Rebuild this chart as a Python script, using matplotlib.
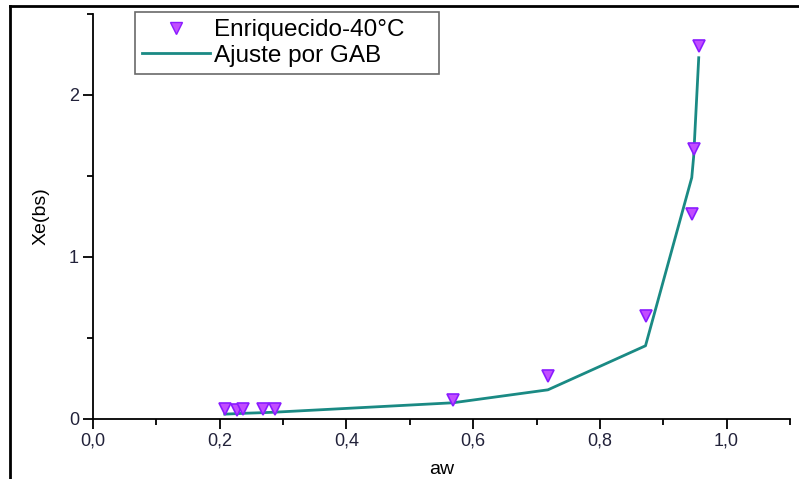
import numpy as np
import matplotlib
matplotlib.use("Agg")
import matplotlib.pyplot as plt
from matplotlib.ticker import MultipleLocator, FuncFormatter
from matplotlib.lines import Line2D

plt.rcParams["font.family"] = ["Liberation Sans", "DejaVu Sans"]

# Datos experimentales (isoterma 40 °C)
aw = [0.208, 0.227, 0.237, 0.268, 0.287, 0.568, 0.718, 0.872, 0.945, 0.948, 0.956]
xe = [0.06, 0.055, 0.06, 0.06, 0.06, 0.117, 0.265, 0.636, 1.265, 1.667, 2.30]

# Ajuste GAB evaluado en los mismos aw
xe_gab = [0.030, 0.033, 0.035, 0.039, 0.042, 0.100, 0.180, 0.452, 1.49, 1.62, 2.23]

fig = plt.figure(figsize=(7.99, 4.79), dpi=100)
ax = fig.add_axes([0.1164, 0.1253, 0.8723, 0.8455])

ax.plot(aw, xe_gab, color="#1a8a84", lw=2.0, zorder=2)
ax.plot(aw, xe, linestyle="none", marker="v", markersize=8,
        markerfacecolor="#c24dff", markeredgecolor="#8a1cff",
        markeredgewidth=1.2, zorder=3)

ax.set_xlim(0, 1.1)
ax.set_ylim(0, 2.5)
ax.spines["top"].set_visible(False)
ax.spines["right"].set_visible(False)
for s in ("left", "bottom"):
    ax.spines[s].set_linewidth(1.3)

ax.xaxis.set_major_locator(MultipleLocator(0.2))
ax.xaxis.set_minor_locator(MultipleLocator(0.1))
ax.yaxis.set_major_locator(MultipleLocator(1))
ax.yaxis.set_minor_locator(MultipleLocator(0.5))
ax.xaxis.set_major_formatter(FuncFormatter(lambda v, p: f"{v:.1f}".replace(".", ",")))
ax.yaxis.set_major_formatter(FuncFormatter(lambda v, p: f"{v:.0f}"))
ax.tick_params(which="major", direction="out", length=7, width=1.3,
               labelsize=13, labelcolor="#22223a", pad=3)
ax.tick_params(which="minor", direction="out", length=4, width=1.3)

ax.set_xlabel("aw", fontsize=14, labelpad=8)
ax.set_ylabel("Xe(bs)", fontsize=14, labelpad=14)

handles = [
    Line2D([], [], linestyle="none", marker="v", markersize=8,
           markerfacecolor="#c24dff", markeredgecolor="#8a1cff"),
    Line2D([], [], color="#1a8a84", lw=2.0),
]
leg = ax.legend(handles, ["Enriquecido-40°C    ", "Ajuste por GAB"],
                loc="upper left", bbox_to_anchor=(135 / 799, 1 - 12 / 479),
                bbox_transform=fig.transFigure, fontsize=17.5, frameon=True,
                fancybox=False, edgecolor="#444444", handlelength=2.8,
                handletextpad=0.15, borderpad=0.3, labelspacing=0.15,
                borderaxespad=0)
leg.get_frame().set_linewidth(1.2)

# borde de la imagen original (izquierda y arriba)
fig.add_artist(Line2D([10 / 799, 10 / 799], [0, 1 - 6 / 479],
                      transform=fig.transFigure, color="black", lw=2))
fig.add_artist(Line2D([10 / 799, 1], [1 - 6 / 479, 1 - 6 / 479],
                      transform=fig.transFigure, color="black", lw=2))

fig.savefig("out.png", dpi=100)
